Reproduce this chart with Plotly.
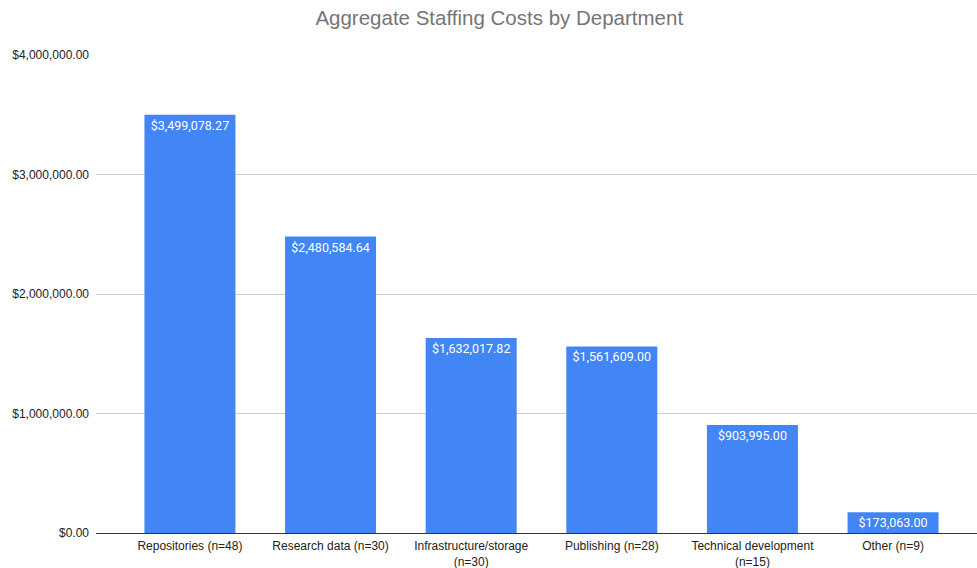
import plotly.graph_objects as go

categories = ["Repositories (n=48)", "Research data (n=30)", "Infrastructure/storage<br>(n=30)",
              "Publishing (n=28)", "Technical development<br>(n=15)", "Other (n=9)"]
values = [3499078.27, 2480584.64, 1632017.82, 1561609.00, 903995.00, 173063.00]
labels = ["${:,.2f}".format(v) for v in values]
tick_vals = [0, 1000000, 2000000, 3000000, 4000000]
tick_text = ["${:,.2f}".format(v) for v in tick_vals]

fig = go.Figure(go.Bar(
    x=categories, y=values, text=labels,
    textposition="inside", insidetextanchor="end",
    textfont=dict(family="Roboto", size=12.5, color="white"),
    marker=dict(color="#4285F4", line=dict(width=0)),
    cliponaxis=False,
))

fig.update_layout(
    width=977, height=568,
    margin=dict(l=96, r=0, t=55, b=35),
    paper_bgcolor="white", plot_bgcolor="white",
    bargap=0.353,
    uniformtext=dict(minsize=12.5, mode="show"),
    title=dict(text="Aggregate Staffing Costs by Department", x=0.511, xanchor="center",
               y=0.968, yanchor="middle",
               font=dict(family="Arial, Liberation Sans", size=20.5, color="#757575")),
    font=dict(family="Arial, Liberation Sans", size=12, color="#222222"),
    showlegend=False,
)
fig.update_xaxes(range=[-0.668, 5.597], showgrid=False, showline=False, ticks="",
                 tickfont=dict(size=12, color="#222222"), ticklabelstandoff=4)
fig.update_yaxes(range=[0, 4000000], tickvals=tick_vals, ticktext=tick_text,
                 showgrid=True, gridcolor="#d0d0d0", gridwidth=1, zeroline=True,
                 zerolinecolor="#333333", zerolinewidth=1, showline=False, ticks="",
                 tickfont=dict(size=12, color="#222222"), ticklabelstandoff=6)

fig.write_html("out.html")
